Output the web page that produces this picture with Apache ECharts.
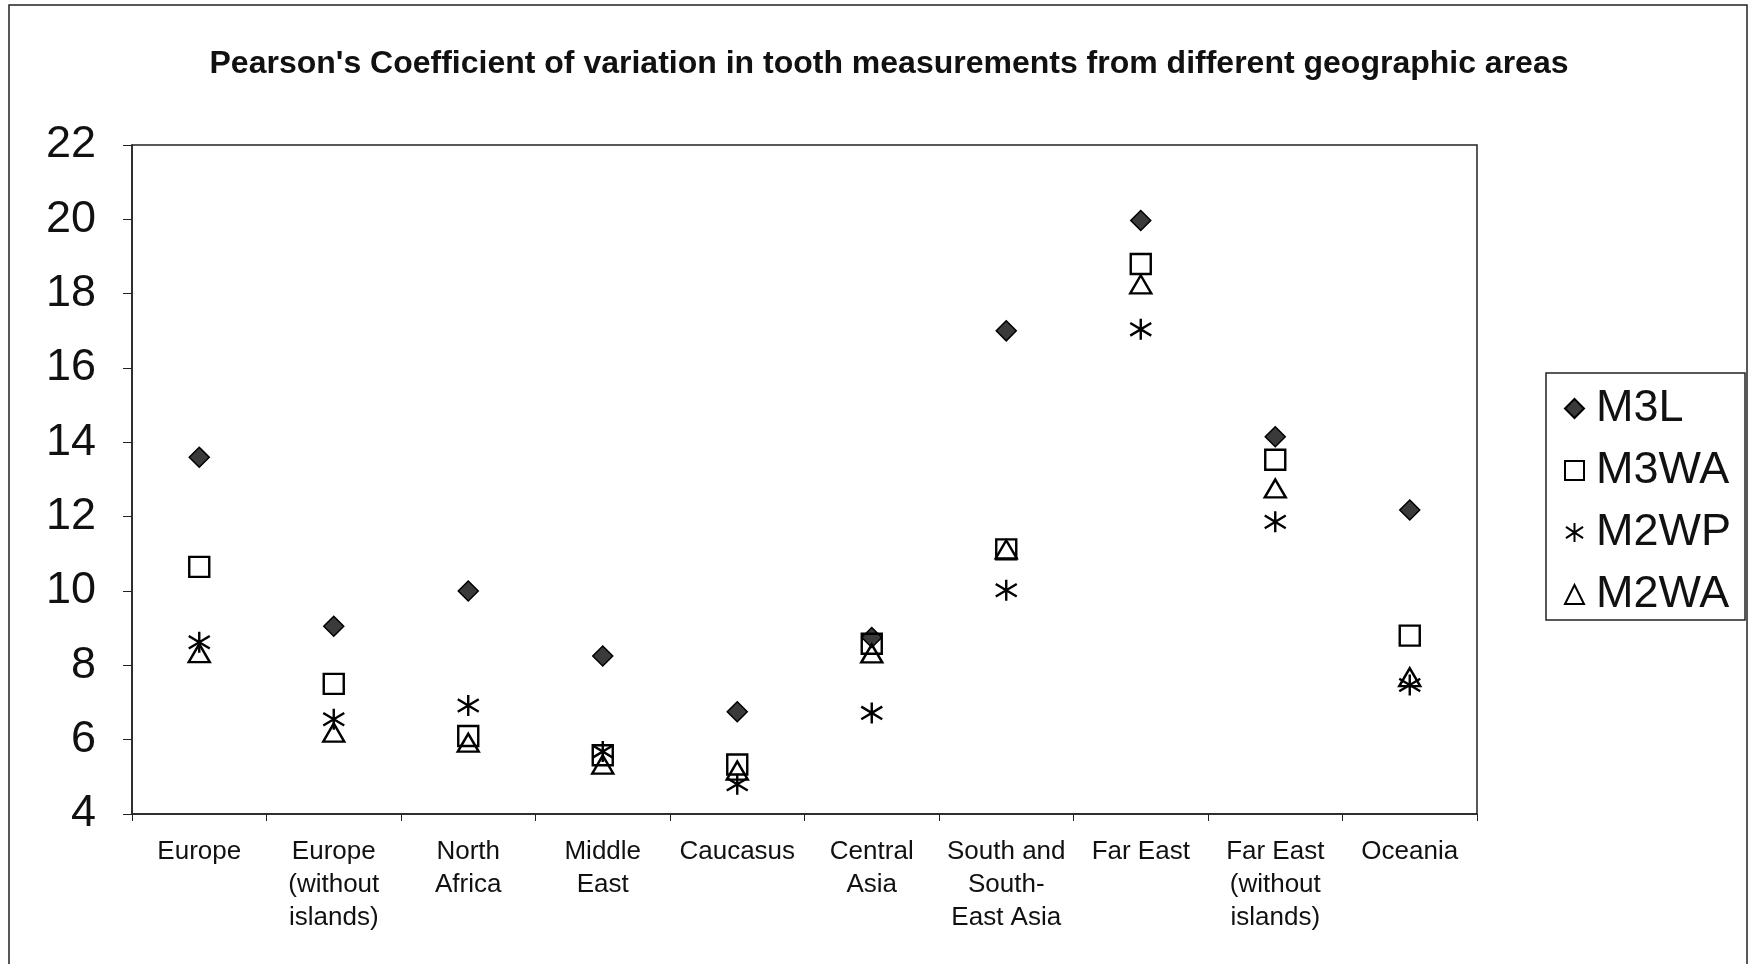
<!DOCTYPE html>
<html>
<head>
<meta charset="utf-8">
<script src="https://cdn.jsdelivr.net/npm/echarts@6/dist/echarts.min.js"></script>
<style>
  html, body { margin: 0; padding: 0; background: #fff; }
  #chart { width: 1750px; height: 964px; }
</style>
</head>
<body>
<div id="chart"></div>
<script>
// geographic areas (x axis)
var areas = ['Europe', 'Europe\n(without\nislands)', 'North\nAfrica', 'Middle\nEast', 'Caucasus',
  'Central\nAsia', 'South and\nSouth-\nEast Asia', 'Far East', 'Far East\n(without\nislands)', 'Oceania'];

// coefficient of variation per tooth measurement
var m3l  = [13.6, 9.05, 10.0, 8.25, 6.75, 8.75, 17.0, 19.97, 14.15, 12.18];
var m3wa = [10.65, 7.5, 6.1, 5.58, 5.33, 8.58, 11.12, 18.8, 13.53, 8.8];
var m2wp = [8.62, 6.55, 6.92, 5.68, 4.8, 6.72, 10.02, 17.04, 11.86, 7.47];
var m2wa = [8.33, 6.19, 5.92, 5.33, 5.17, 8.32, 11.12, 18.25, 12.76, 7.68];

var yTicks = { min: 4, max: 22, interval: 2 };

var font = 'Liberation Sans, Arial, sans-serif';
var asterisk = 'path://M10,0 L10,20 M1,4 L19,16 M1,16 L19,4';

var chart = echarts.init(document.getElementById('chart'));

var option = {
  backgroundColor: '#fff',
  animation: false,
  title: {
    text: "Pearson's Coefficient of variation in tooth measurements from different geographic areas",
    left: 884,
    textAlign: 'center',
    top: 43,
    textStyle: { fontFamily: font, fontSize: 32, fontWeight: 'bold', color: '#111' }
  },
  graphic: [{
    type: 'rect',
    shape: { x: 9, y: 5, width: 1738, height: 1000 },
    style: { fill: 'none', stroke: '#222', lineWidth: 1.5 },
    silent: true
  }],
  legend: {
    orient: 'vertical',
    left: 1546,
    top: 373,
    padding: [13, 14, 3, 18],
    borderColor: '#222',
    borderWidth: 1.5,
    itemGap: 17,
    itemWidth: 19,
    itemHeight: 19,
    textStyle: { fontFamily: font, fontSize: 45, color: '#111', padding: [0, 0, 0, 7] },
    data: ['M3L', 'M3WA', 'M2WP', 'M2WA']
  },
  grid: {
    left: 132, right: 273, top: 145, bottom: 150,
    show: true,
    borderColor: '#222',
    borderWidth: 1.5
  },
  xAxis: {
    type: 'category',
    data: areas,
    boundaryGap: true,
    axisLine: { lineStyle: { color: '#222', width: 1.5 } },
    axisTick: { show: true, length: 7, lineStyle: { color: '#222' } },
    axisLabel: {
      fontFamily: font, fontSize: 26, color: '#111',
      margin: 21, lineHeight: 33, interval: 0, align: 'center'
    },
    splitLine: { show: false }
  },
  yAxis: {
    type: 'value',
    min: yTicks.min, max: yTicks.max, interval: yTicks.interval,
    axisLine: { show: true, lineStyle: { color: '#222', width: 1.5 } },
    axisTick: { show: true, length: 9, lineStyle: { color: '#222' } },
    axisLabel: { fontFamily: font, fontSize: 45, color: '#111', margin: 36 },
    splitLine: { show: false }
  },
  series: [
    {
      name: 'M3L', type: 'scatter', data: m3l,
      symbol: 'diamond', symbolSize: [20, 20],
      itemStyle: { color: '#3a3a3a', borderColor: '#000', borderWidth: 1.5, opacity: 1 }
    },
    {
      name: 'M3WA', type: 'scatter', data: m3wa,
      symbol: 'rect', symbolSize: 20,
      itemStyle: { color: 'rgba(255,255,255,0)', borderColor: '#000', borderWidth: 2.4, opacity: 1 }
    },
    {
      name: 'M2WP', type: 'scatter', data: m2wp,
      symbol: asterisk, symbolSize: 21,
      itemStyle: { color: 'rgba(255,255,255,0)', borderColor: '#000', borderWidth: 2.4, opacity: 1 }
    },
    {
      name: 'M2WA', type: 'scatter', data: m2wa,
      symbol: 'triangle', symbolSize: [21, 18],
      itemStyle: { color: 'rgba(255,255,255,0)', borderColor: '#000', borderWidth: 2.4, opacity: 1 }
    }
  ]
};

chart.setOption(option);
window.addEventListener('resize', function () {
  chart.resize();
});
</script>
</body>
</html>
